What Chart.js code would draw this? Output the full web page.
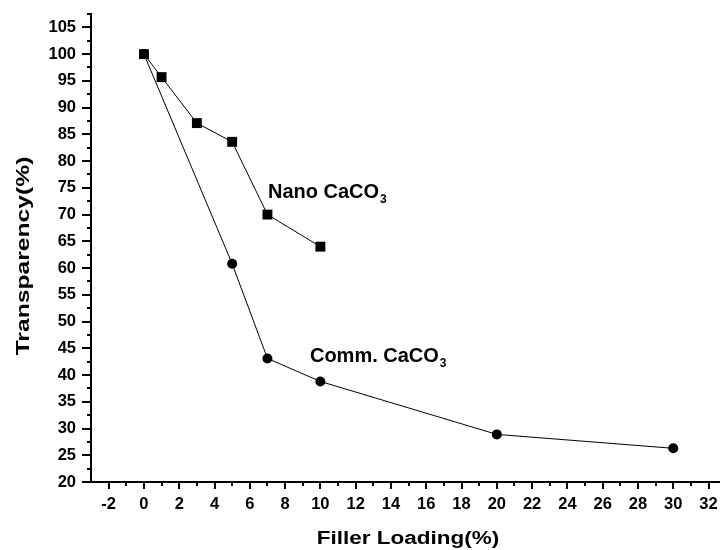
<!DOCTYPE html>
<html lang="en">
<head>
    <meta charset="UTF-8">
    <title>Transparency vs Filler Loading</title>
    <script src="https://cdn.jsdelivr.net/npm/chart.js"></script>
    <style>
        html, body { margin: 0; padding: 0; background: #fff; }
        #wrap { width: 720px; height: 550px; }
    </style>
</head>
<body>
    <div id="wrap">
        <canvas id="transChart" width="720" height="550"></canvas>
    </div>

    <script>
        // values
        const nanoLoading = [0, 1, 3, 5, 7, 10];
        const nanoTransparency = [100, 95.7, 87.1, 83.6, 70, 64];
        const commLoading = [0, 5, 7, 10, 20, 30];
        const commTransparency = [100, 60.8, 43.1, 38.8, 28.9, 26.3];

        const xTickValues = [-2, 0, 2, 4, 6, 8, 10, 12, 14, 16, 18, 20, 22, 24, 26, 28, 30, 32];
        const yTickValues = [20, 25, 30, 35, 40, 45, 50, 55, 60, 65, 70, 75, 80, 85, 90, 95, 100, 105];

        const xTitle = 'Filler Loading(%)';
        const yTitle = 'Transparency(%)';
        const nanoLabel = ['Nano CaCO', '3'];
        const commLabel = ['Comm. CaCO', '3'];

        const toPoints = (xs, ys) => xs.map((x, i) => ({ x: x, y: ys[i] }));

        // minor ticks, subscript labels and stretched axis titles
        const extras = {
            id: 'extras',
            afterDraw(chart) {
                const ctx = chart.ctx;
                const xs = chart.scales.x;
                const ys = chart.scales.y;
                const area = chart.chartArea;
                ctx.save();
                ctx.strokeStyle = '#000';
                ctx.lineWidth = 2;
                ctx.beginPath();
                for (let v = -1; v <= xs.max; v += 2) {
                    const px = Math.round(xs.getPixelForValue(v));
                    ctx.moveTo(px, area.bottom);
                    ctx.lineTo(px, area.bottom + 4);
                }
                for (let v = 22.5; v <= ys.max; v += 5) {
                    const py = Math.round(ys.getPixelForValue(v));
                    ctx.moveTo(area.left, py);
                    ctx.lineTo(area.left - 4, py);
                }
                ctx.stroke();

                ctx.fillStyle = '#000';
                const drawSub = (parts, xv, yv) => {
                    const px = xs.getPixelForValue(xv);
                    const py = ys.getPixelForValue(yv);
                    ctx.font = 'bold 20px "Liberation Sans", Arial, sans-serif';
                    ctx.textAlign = 'left';
                    ctx.textBaseline = 'alphabetic';
                    ctx.fillText(parts[0], px, py);
                    const w = ctx.measureText(parts[0]).width;
                    ctx.font = 'bold 12px "Liberation Sans", Arial, sans-serif';
                    ctx.fillText(parts[1], px + w + 1, py + 5);
                };
                drawSub(nanoLabel, 7.03, 73.1);
                drawSub(commLabel, 9.41, 42.5);

                ctx.font = 'bold 18px "Liberation Sans", Arial, sans-serif';
                ctx.textAlign = 'center';
                ctx.textBaseline = 'alphabetic';
                ctx.save();
                ctx.translate(408, 544);
                ctx.scale(1.25, 1);
                ctx.fillText(xTitle, 0, 0);
                ctx.restore();

                ctx.save();
                ctx.translate(29, 256);
                ctx.rotate(-Math.PI / 2);
                ctx.scale(1.37, 1);
                ctx.fillText(yTitle, 0, 0);
                ctx.restore();
                ctx.restore();
            }
        };

        const ctx = document.getElementById('transChart').getContext('2d');
        new Chart(ctx, {
            type: 'scatter',
            data: {
                datasets: [{
                    label: 'Nano CaCO3',
                    data: toPoints(nanoLoading, nanoTransparency),
                    showLine: true,
                    borderColor: '#000',
                    borderWidth: 1,
                    backgroundColor: '#000',
                    pointStyle: 'rect',
                    pointRadius: 7,
                    pointBorderWidth: 0
                }, {
                    label: 'Comm. CaCO3',
                    data: toPoints(commLoading, commTransparency),
                    showLine: true,
                    borderColor: '#000',
                    borderWidth: 1,
                    backgroundColor: '#000',
                    pointStyle: 'circle',
                    pointRadius: 5,
                    pointBorderWidth: 0
                }]
            },
            options: {
                responsive: false,
                animation: false,
                layout: { autoPadding: false, padding: { top: 14, right: 0, left: 0, bottom: 0 } },
                plugins: {
                    legend: { display: false },
                    tooltip: { enabled: false }
                },
                scales: {
                    x: {
                        type: 'linear',
                        min: -3,
                        max: 32.65,
                        afterBuildTicks: s => { s.ticks = xTickValues.map(v => ({ value: v })); },
                        afterFit: s => { s.height = 68; s.paddingLeft = 0; s.paddingRight = 0; },
                        border: { display: true, color: '#000', width: 2 },
                        grid: { drawOnChartArea: false, drawTicks: true, tickLength: 7, color: '#000', lineWidth: 2 },
                        ticks: {
                            color: '#000',
                            padding: 6,
                            maxRotation: 0,
                            autoSkip: false,
                            font: { family: '"Liberation Sans", Arial, sans-serif', size: 16.5, weight: 'bold' }
                        }
                    },
                    y: {
                        type: 'linear',
                        min: 20,
                        max: 107.5,
                        afterBuildTicks: s => { s.ticks = yTickValues.map(v => ({ value: v })); },
                        afterFit: s => { s.width = 91; s.paddingTop = 0; s.paddingBottom = 0; },
                        border: { display: true, color: '#000', width: 2 },
                        grid: { drawOnChartArea: false, drawTicks: true, tickLength: 9, color: '#000', lineWidth: 2 },
                        ticks: {
                            color: '#000',
                            padding: 6,
                            autoSkip: false,
                            font: { family: '"Liberation Sans", Arial, sans-serif', size: 16.5, weight: 'bold' }
                        }
                    }
                }
            },
            plugins: [extras]
        });
    </script>
</body>
</html>
